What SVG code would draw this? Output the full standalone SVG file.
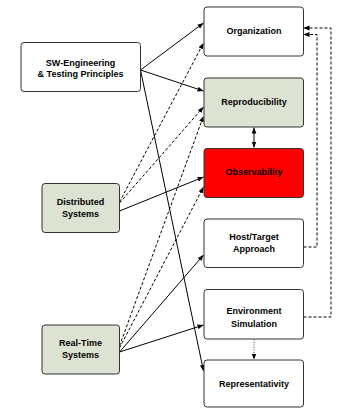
<svg xmlns="http://www.w3.org/2000/svg" width="337" height="408" viewBox="0 0 337 408">
  <defs>
    <marker id="arr" viewBox="0 0 10 10" refX="10" refY="5" markerWidth="6" markerHeight="6" orient="auto-start-reverse" markerUnits="userSpaceOnUse">
      <path d="M0,1 L10,5 L0,9 Z" fill="#000"/>
    </marker>
    <style>
      .box { stroke: #333; stroke-width: 1; }
      .plain { fill: #fff; }
      .green { fill: #dde3d2; }
      .red { fill: #ff0000; }
      text { font-family: "Liberation Sans", Arial, sans-serif; font-weight: bold; font-size: 9px; text-anchor: middle; fill: #000; }
      .c { fill: none; stroke: #000; stroke-width: 1; }
      .dash { stroke-dasharray: 3 2; }
      .dot { stroke: #444; stroke-dasharray: 1 1.5; }
    </style>
  </defs>
  <rect width="337" height="408" fill="#fff"/>

  <g id="connectors">
    <!-- solid dependencies -->
    <line class="c" x1="140.5" y1="70" x2="203.5" y2="23" marker-end="url(#arr)"/>
    <line class="c" x1="140.5" y1="70" x2="203.5" y2="91" marker-end="url(#arr)"/>
    <line class="c" x1="140.5" y1="70" x2="203.5" y2="371" marker-end="url(#arr)"/>
    <line class="c" x1="119.5" y1="211" x2="203.5" y2="177" marker-end="url(#arr)"/>
    <line class="c" x1="119.5" y1="352" x2="203.5" y2="255" marker-end="url(#arr)"/>
    <line class="c" x1="119.5" y1="352" x2="203.5" y2="325" marker-end="url(#arr)"/>
    <!-- dashed dependencies -->
    <line class="c dash" x1="119.5" y1="202" x2="203.5" y2="43" marker-end="url(#arr)"/>
    <line class="c dash" x1="119.5" y1="203" x2="203.5" y2="107" marker-end="url(#arr)"/>
    <line class="c dash" x1="119.5" y1="346" x2="203.5" y2="116" marker-end="url(#arr)"/>
    <line class="c dash" x1="119.5" y1="348" x2="203.5" y2="187" marker-end="url(#arr)"/>
    <polyline class="c dash" points="303.5,247 317,247 317,34.5 303.5,34.5" marker-end="url(#arr)"/>
    <polyline class="c dash" points="303.5,317 331,317 331,28 303.5,28" marker-end="url(#arr)"/>
    <!-- vertical links -->
    <line class="c" x1="254" y1="127.5" x2="254" y2="147.5" marker-start="url(#arr)" marker-end="url(#arr)"/>
    <line class="c dot" x1="254" y1="339.5" x2="254" y2="359.5" marker-end="url(#arr)"/>
  </g>

  <g id="sw-engineering">
    <rect class="box plain" x="21" y="42.5" width="119.5" height="49" rx="3"/>
    <text x="80.5" y="65.5">SW-Engineering</text>
    <text x="80.5" y="77">&amp; Testing Principles</text>
  </g>
  <g id="distributed">
    <rect class="box green" x="42" y="183.5" width="77.5" height="49" rx="3"/>
    <text x="80.5" y="205">Distributed</text>
    <text x="80.5" y="216.5">Systems</text>
  </g>
  <g id="real-time">
    <rect class="box green" x="42" y="325" width="77.5" height="49" rx="3"/>
    <text x="80.5" y="346">Real-Time</text>
    <text x="80.5" y="358">Systems</text>
  </g>
  <g id="organization">
    <rect class="box plain" x="204" y="7" width="99.5" height="49" rx="3"/>
    <text x="254" y="34">Organization</text>
  </g>
  <g id="reproducibility">
    <rect class="box green" x="204" y="78" width="99.5" height="49" rx="3"/>
    <text x="254" y="105">Reproducibility</text>
  </g>
  <g id="observability">
    <rect class="box red" x="204" y="148.5" width="99.5" height="49" rx="3"/>
    <text x="254" y="175">Observability</text>
  </g>
  <g id="host-target">
    <rect class="box plain" x="204" y="219" width="99.5" height="48.5" rx="3"/>
    <text x="254" y="240">Host/Target</text>
    <text x="254" y="251.5">Approach</text>
  </g>
  <g id="environment-simulation">
    <rect class="box plain" x="204" y="289.5" width="99.5" height="49.5" rx="3"/>
    <text x="254" y="314">Environment</text>
    <text x="254" y="326.5">Simulation</text>
  </g>
  <g id="representativity">
    <rect class="box plain" x="204" y="360" width="99.5" height="47" rx="3"/>
    <text x="254" y="386.5">Representativity</text>
  </g>
</svg>
